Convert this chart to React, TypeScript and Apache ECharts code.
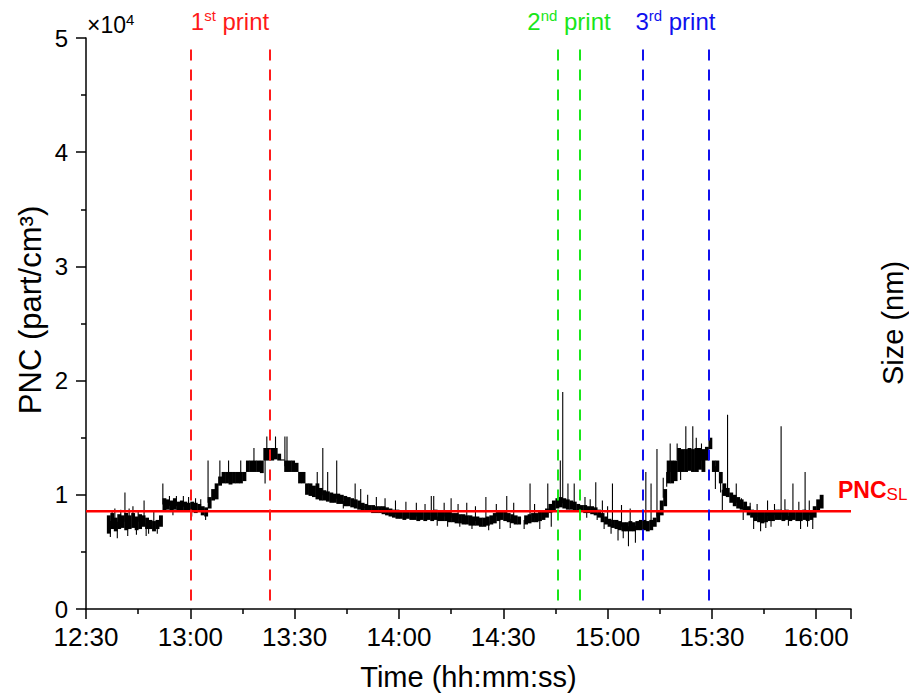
import React, { useEffect, useRef } from "react";
import * as echarts from "echarts";

const FONT = "'Liberation Sans', Arial, Helvetica, sans-serif";

// x axis: minutes since midnight (12:30 -> 16:10)
const X_MIN = 750;
const X_MAX = 970;
const X_INTERVAL = 30;
// y axis in units of 1e4 part/cm3
const Y_MIN = 0;
const Y_MAX = 5;
const Y_INTERVAL = 1;

// PNC envelope, one bin per minute starting 12:36 (units: 1e4 part/cm3)
const FIRST_BIN_MINUTE = 756;
const pncLow = [
  0.66, 0.70, 0.68, 0.70, 0.71, 0.69, 0.70, 0.71, 0.69, 0.70,
  0.72, 0.70, 0.70, 0.68, 0.70, 0.72, 0.86, 0.87, 0.86, 0.87,
  0.86, 0.86, 0.85, 0.86, 0.85, 0.84, 0.85, 0.82, 0.81, 0.88,
  0.95, 0.96, 1.08, 1.10, 1.10, 1.09, 1.10, 1.10, 1.10, 1.12,
  1.20, 1.20, 1.20, 1.20, 1.19, 1.30, 1.30, 1.30, 1.31, 1.30,
  1.30, 1.20, 1.20, 1.20, 1.20, 1.10, 1.10, 1.00, 0.99, 0.98,
  0.96, 0.95, 0.95, 0.94, 0.93, 0.93, 0.92, 0.92, 0.90, 0.90,
  0.89, 0.88, 0.87, 0.86, 0.85, 0.85, 0.84, 0.84, 0.84, 0.83,
  0.82, 0.81, 0.80, 0.79, 0.79, 0.78, 0.79, 0.78, 0.78, 0.77,
  0.78, 0.77, 0.78, 0.77, 0.78, 0.77, 0.77, 0.77, 0.76, 0.76,
  0.75, 0.75, 0.74, 0.74, 0.73, 0.73, 0.73, 0.72, 0.72, 0.73,
  0.74, 0.75, 0.77, 0.78, 0.77, 0.76, 0.75, 0.74, 0.74, null,
  0.74, 0.75, 0.76, 0.76, 0.77, 0.78, 0.80, 0.84, 0.86, 0.88,
  0.89, 0.88, 0.87, 0.87, 0.86, 0.85, 0.85, 0.84, 0.84, 0.83,
  0.82, 0.80, 0.76, 0.74, 0.72, 0.71, 0.70, 0.69, 0.68, 0.68,
  0.68, 0.68, 0.69, 0.69, 0.69, 0.68, 0.69, 0.72, 0.76, 0.82,
  0.90, 1.10, 1.10, 1.12, 1.20, 1.20, 1.20, 1.21, 1.20, 1.20,
  1.22, 1.20, 1.30, 1.40, 1.20, 1.20, 1.10, 0.99, 0.98, 0.93,
  0.90, 0.88, 0.87, 0.85, 0.82, 0.80, 0.77, 0.76, 0.75, 0.76,
  0.77, 0.77, 0.78, 0.78, 0.77, 0.78, 0.77, 0.78, 0.77, 0.77,
  0.78, 0.77, 0.78, 0.80, 0.86, 0.88,
];
const pncHigh = [
  0.82, 0.84, 0.80, 0.83, 0.82, 0.84, 0.82, 0.84, 0.81, 0.83,
  0.82, 0.80, 0.78, 0.77, 0.78, 0.82, 0.97, 0.96, 0.95, 0.97,
  0.94, 0.95, 0.94, 0.93, 0.94, 0.93, 0.92, 0.90, 0.89, 0.98,
  1.05, 1.10, 1.16, 1.20, 1.20, 1.20, 1.20, 1.20, 1.20, 1.20,
  1.30, 1.30, 1.30, 1.30, 1.30, 1.41, 1.41, 1.41, 1.41, 1.36,
  1.31, 1.30, 1.30, 1.30, 1.28, 1.20, 1.20, 1.10, 1.10, 1.08,
  1.10, 1.06, 1.04, 1.03, 1.02, 1.01, 1.01, 1.00, 0.99, 0.98,
  0.97, 0.96, 0.95, 0.93, 0.92, 0.91, 0.91, 0.90, 0.90, 0.90,
  0.89, 0.88, 0.87, 0.87, 0.86, 0.86, 0.86, 0.85, 0.86, 0.85,
  0.86, 0.85, 0.86, 0.86, 0.87, 0.85, 0.86, 0.85, 0.85, 0.84,
  0.84, 0.83, 0.83, 0.82, 0.82, 0.81, 0.81, 0.80, 0.80, 0.81,
  0.82, 0.84, 0.85, 0.86, 0.85, 0.84, 0.83, 0.82, 0.81, null,
  0.82, 0.83, 0.84, 0.84, 0.85, 0.86, 0.88, 0.92, 0.95, 0.97,
  0.98, 0.97, 0.96, 0.95, 0.94, 0.92, 0.91, 0.91, 0.90, 0.90,
  0.89, 0.87, 0.84, 0.81, 0.79, 0.78, 0.78, 0.77, 0.76, 0.76,
  0.77, 0.76, 0.77, 0.78, 0.78, 0.77, 0.78, 0.80, 0.86, 0.95,
  1.05, 1.30, 1.30, 1.30, 1.41, 1.40, 1.40, 1.41, 1.40, 1.41,
  1.41, 1.40, 1.42, 1.50, 1.30, 1.30, 1.20, 1.10, 1.06, 1.02,
  1.00, 0.98, 0.96, 0.94, 0.90, 0.87, 0.86, 0.85, 0.85, 0.85,
  0.86, 0.86, 0.87, 0.87, 0.86, 0.87, 0.86, 0.86, 0.85, 0.86,
  0.87, 0.85, 0.86, 0.90, 0.96, 1.00,
];

// isolated excursions: [minute since midnight, value (1e4 part/cm3)]
const pncSpikes: [number, number][] = [
  // large upward spikes
  [757.5, 0.86], [761.2, 1.02], [763.5, 0.9], [766.7, 0.95], [772.1, 1.1],
  [776, 0.99], [778, 0.99], [785.1, 1.3], [788.5, 1.3], [791, 1.3],
  [794.5, 1.3], [798.3, 1.41], [802, 1.51], [804.5, 1.51], [807.2, 1.51],
  [807.8, 1.51], [816.5, 1.2], [818.1, 1.41], [819.5, 1.2], [822.1, 1.3],
  [827.4, 1.1], [849.3, 0.99], [850, 0.99], [855, 0.97], [865, 0.98],
  [871, 0.99], [877.7, 1.1], [882.8, 1.1], [886.4, 1.3], [887.1, 1.9],
  [888.6, 1.1], [890.4, 1.1], [896.6, 1.11], [901.4, 1.1], [904, 0.91],
  [911, 1.2], [914.2, 1.4], [917, 1.07], [922.5, 1.6], [924.5, 1.6],
  [927, 1.45], [934.5, 1.7], [937, 1.1], [949.9, 1.6], [953.3, 1.1],
  [956.8, 1.2],
  // downward spikes
  [757, 0.63], [768, 0.66], [801.5, 1.1], [824, 0.88], [851, 0.73],
  [865.8, 0.69], [883.8, 0.72], [903, 0.6], [906, 0.55], [908, 0.58],
  [944, 0.68], [959, 0.7],
  // small noise hairs
  [758.3, 0.88], [760, 0.87], [762.4, 0.88], [765, 0.86], [769.5, 0.85],
  [759, 0.62], [762, 0.64], [764.5, 0.65], [767.3, 0.64], [770.5, 0.66],
  [774, 0.99], [779.5, 0.98], [781.5, 0.97], [783, 0.96],
  [775, 0.82], [780.4, 0.81], [784.4, 0.78],
  [829, 1.05], [831, 1.0], [833.5, 0.98], [836, 0.97], [839, 0.95],
  [842, 0.94], [845, 0.93], [847.5, 0.92],
  [830, 0.9], [833, 0.88], [838, 0.84], [842.5, 0.8], [846, 0.78],
  [853, 0.93], [857, 0.92], [859.5, 0.93], [862, 0.9], [868, 0.92],
  [873, 0.93], [875, 0.91], [879, 0.92],
  [854, 0.72], [857.5, 0.72], [861, 0.7], [869, 0.7], [872, 0.71],
  [876, 0.7], [880.5, 0.7],
  [893.5, 0.98], [895, 0.96], [898.5, 0.95], [900, 0.9], [906.5, 0.88],
  [894, 0.8], [897, 0.78], [899, 0.7], [901, 0.66], [904.5, 0.62],
  [912.5, 1.1], [916, 1.15], [919, 1.15], [921, 1.13], [926, 1.2],
  [918, 1.45], [920, 1.45], [925.5, 1.5],
  [931, 1.05], [932.5, 1.02], [936, 0.98], [938.5, 0.97], [941, 0.93],
  [943, 0.92], [946, 0.95], [948, 0.92], [951, 0.96], [955, 0.94],
  [958, 0.95],
  [933, 0.86], [939, 0.78], [942, 0.7], [945.5, 0.71], [947, 0.72],
  [952, 0.73], [955.5, 0.7], [957.5, 0.72],
];

// steady-level PNC
const PNC_SL = 0.855;

// print periods: [start, end] minutes since midnight
const printPeriods: [number, number][] = [
  [780, 802.8],
  [885.8, 892],
  [910, 929],
];
const printOrdinals = ["1", "2", "3"];
const printSuffixes = ["st", "nd", "rd"];
const printColors = ["#ff1a1a", "#19e619", "#1010ee"];
const PRINT_LINE_TOP = 4.9;

function fmtTime(v: number) {
  const h = Math.floor(v / 60);
  const m = Math.round(v % 60);
  return `${h}:${String(m).padStart(2, "0")}`;
}

export default function App() {
  const ref = useRef<HTMLDivElement>(null);

  useEffect(() => {
    if (!ref.current) return;
    const chart = echarts.init(ref.current, null, { renderer: "svg" });

    const bandData: any[] = [];
    pncLow.forEach((lo, i) => {
      const hi = pncHigh[i];
      if (lo == null || hi == null) return;
      bandData.push([FIRST_BIN_MINUTE + i, lo, hi]);
    });

    const spikeData: any[] = [];
    pncSpikes.forEach(([t, v]) => {
      const idx = Math.floor(t) - FIRST_BIN_MINUTE;
      const lo = pncLow[idx];
      const hi = pncHigh[idx];
      if (lo == null || hi == null) return;
      const base = (lo + hi) / 2;
      spikeData.push([t, base], [t, v], [t, "-"]);
    });

    const markData: any[] = [];
    printPeriods.forEach(([s, e], i) => {
      [s, e].forEach((t) => {
        markData.push([
          { coord: [t, PRINT_LINE_TOP], lineStyle: { color: printColors[i] } },
          { coord: [t, 0] },
        ]);
      });
    });

    const axisCommon = {
      axisLine: { show: true, lineStyle: { color: "#000", width: 1.5 } },
      axisTick: { show: true, inside: false, length: 10, lineStyle: { color: "#000", width: 1.5 } },
      minorTick: { show: true, splitNumber: 2, length: 5, lineStyle: { color: "#000", width: 1.5 } },
      splitLine: { show: false },
    };

    const option: any = {
      animation: false,
      backgroundColor: "#fff",
      textStyle: { fontFamily: FONT },
      grid: { left: 86, right: 58, top: 38, bottom: 89 },
      xAxis: {
        type: "value",
        min: X_MIN,
        max: X_MAX,
        interval: X_INTERVAL,
        ...axisCommon,
        axisLabel: {
          color: "#000",
          fontSize: 26,
          fontFamily: FONT,
          margin: 15,
          formatter: (v: number) => fmtTime(v),
          showMaxLabel: false,
        },
        name: "Time (hh:mm:ss)",
        nameLocation: "middle",
        nameGap: 53,
        nameTextStyle: { color: "#000", fontSize: 29, fontFamily: FONT },
      },
      yAxis: {
        type: "value",
        min: Y_MIN,
        max: Y_MAX,
        interval: Y_INTERVAL,
        ...axisCommon,
        axisLabel: {
          color: "#000",
          fontSize: 24,
          fontFamily: FONT,
          margin: 18,
        },
      },
      series: [
        {
          type: "custom",
          data: bandData,
          encode: { x: 0, y: [1, 2] },
          z: 2,
          silent: true,
          clip: true,
          renderItem: (params: any, api: any) => {
            const t = api.value(0);
            const lo = api.value(1);
            const hi = api.value(2);
            const pTop = api.coord([t, hi]);
            const pBot = api.coord([t + 1, lo]);
            return {
              type: "rect",
              shape: {
                x: pTop[0],
                y: pTop[1],
                width: pBot[0] - pTop[0] + 0.4,
                height: Math.max(1, pBot[1] - pTop[1]),
              },
              style: { fill: "#000" },
            };
          },
        },
        {
          type: "line",
          data: spikeData,
          showSymbol: false,
          symbol: "none",
          connectNulls: false,
          lineStyle: { color: "#000", width: 1.1 },
          z: 2,
          silent: true,
        },
        {
          type: "line",
          data: [
            [X_MIN, PNC_SL],
            [X_MAX, PNC_SL],
          ],
          showSymbol: false,
          symbol: "none",
          lineStyle: { color: "#ff0000", width: 2.5 },
          z: 4,
          silent: true,
          markLine: {
            silent: true,
            symbol: ["none", "none"],
            label: { show: false },
            lineStyle: { type: [11, 9], width: 2 },
            data: markData,
            z: 5,
          },
        },
      ],
    };

    chart.setOption(option);

    const graphics: any[] = [];
    printPeriods.forEach(([s, e], i) => {
      const p = chart.convertToPixel({ gridIndex: 0 } as any, [(s + e) / 2, 0]) as number[];
      const c = printColors[i];
      graphics.push({
        type: "text",
        x: p[0],
        y: 21,
        z: 10,
        style: {
          text: `{n|${printOrdinals[i]}}{s|${printSuffixes[i]}}{n| print}`,
          align: "center",
          verticalAlign: "middle",
          fill: c,
          rich: {
            n: { fontSize: 24, fontFamily: FONT, fill: c, lineHeight: 26 },
            s: { fontSize: 15, fontFamily: FONT, fill: c, verticalAlign: "top", lineHeight: 26 },
          },
        },
      });
    });

    const slPix = chart.convertToPixel({ gridIndex: 0 } as any, [X_MAX, PNC_SL]) as number[];
    graphics.push({
      type: "text",
      x: slPix[0] - 13,
      y: slPix[1] - 21,
      z: 10,
      style: {
        text: "{b|PNC}{s|SL}",
        align: "left",
        verticalAlign: "middle",
        fill: "#ff0000",
        rich: {
          b: { fontSize: 23, fontWeight: "bold", fontFamily: FONT, fill: "#ff0000", lineHeight: 26 },
          s: { fontSize: 17, fontFamily: FONT, fill: "#ff0000", verticalAlign: "bottom", lineHeight: 26 },
        },
      },
    });

    const topLeft = chart.convertToPixel({ gridIndex: 0 } as any, [X_MIN, Y_MAX]) as number[];
    graphics.push({
      type: "text",
      x: topLeft[0] + 1,
      y: topLeft[1] - 13,
      z: 10,
      style: {
        text: "{a|×10}{s|4}",
        align: "left",
        verticalAlign: "middle",
        fill: "#000",
        rich: {
          a: { fontSize: 23, fontFamily: FONT, fill: "#000", lineHeight: 26 },
          s: { fontSize: 15, fontFamily: FONT, fill: "#000", verticalAlign: "top", lineHeight: 26 },
        },
      },
    });

    // left axis title
    graphics.push({
      type: "text",
      x: 30,
      y: 310,
      rotation: Math.PI / 2,
      z: 10,
      style: {
        text: "PNC (part/cm³)",
        align: "center",
        verticalAlign: "middle",
        fill: "#000",
        fontSize: 31,
        fontFamily: FONT,
      },
    });

    // right axis title
    graphics.push({
      type: "text",
      x: 893,
      y: 323,
      rotation: Math.PI / 2,
      z: 10,
      style: {
        text: "Size (nm)",
        align: "center",
        verticalAlign: "middle",
        fill: "#000",
        fontSize: 29,
        fontFamily: FONT,
      },
    });

    chart.setOption({ graphic: graphics });

    return () => chart.dispose();
  }, []);

  return (
    <div
      ref={ref}
      style={{ position: "fixed", left: 0, top: 0, width: 909, height: 698, background: "#fff" }}
    />
  );
}
